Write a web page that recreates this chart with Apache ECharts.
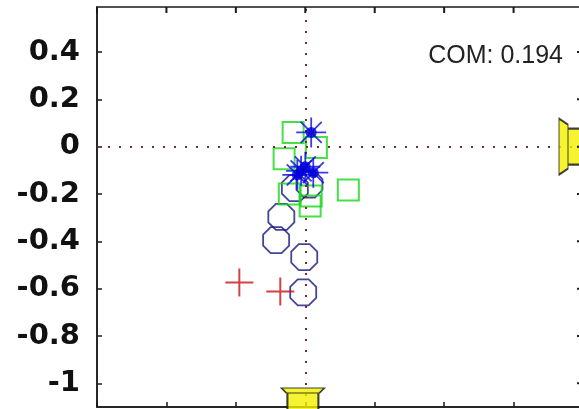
<!DOCTYPE html>
<html>
<head>
<meta charset="utf-8">
<script src="https://cdn.jsdelivr.net/npm/echarts@6/dist/echarts.min.js"></script>
<style>html,body{margin:0;padding:0;background:#fff}#c{width:579px;height:409px}</style>
</head>
<body>
<div id="c"></div>
<script>
// ---- data ----
const xMin = -0.6, xMax = 0.8;
const yMin = -1.1, yMax = 0.59;
const xTicks = [-0.6, -0.4, -0.2, 0, 0.2, 0.4, 0.6, 0.8];
const yTicks = [-1, -0.8, -0.6, -0.4, -0.2, 0, 0.2, 0.4];

const plusX = [-0.190, -0.072];
const plusY = [-0.574, -0.612];

const circleX = [-0.069, -0.084, -0.003, -0.006, 0.012, -0.030];
const circleY = [-0.297, -0.395, -0.467, -0.616, -0.160, -0.175];

const squareX = [-0.035, 0.032, -0.061, 0.124, -0.046, 0.017, 0.014];
const squareY = [0.060, -0.004, -0.051, -0.183, -0.200, -0.208, -0.251];

const starX = [0.017, -0.012, -0.023, 0.000, 0.023];
const starY = [0.060, -0.102, -0.119, -0.085, -0.110];

const comLabel = 'COM: 0.194';
const comBottom = [-0.004, -1.1];
const comRight = [0.8, 0];

const zip = (a, b) => a.map((v, i) => [v, b[i]]);

const chart = echarts.init(document.getElementById('c'), null, {renderer: 'canvas'});

const mkLine = () => ({show: true, onZero: false, lineStyle: {color: '#1a1a1a', width: 1.5}});
const tick = (vals) => ({show: true, inside: true, length: 5, lineStyle: {color: '#1a1a1a', width: 1.5}, customValues: vals.slice()});

const octagon = 'path://M29,0L71,0L100,29L100,71L71,100L29,100L0,71L0,29Z';
const plusPath = 'path://M0,10L20,10M10,0L10,20';
const starPath = 'path://M0,10L20,10M10,0L10,20M3,3L17,17M17,3L3,17';
const bottomMarker = 'path://M0,0L43,0L38,5L5,5ZM6,5L37,5L37,22L6,22Z';
const rightMarker = 'path://M0,0L9,6L9,50L0,56ZM9,10L22,10L22,46L9,46Z';

chart.setOption({
  animation: false,
  backgroundColor: '#fff',
  grid: {left: 97, right: -4, top: 7, bottom: 2, containLabel: false, outerBoundsMode: 'none',
         show: true, backgroundColor: 'transparent', borderColor: '#1a1a1a', borderWidth: 1.5},
  xAxis: {type: 'value', position: 'bottom', min: xMin, max: xMax, axisLine: mkLine(), axisTick: tick(xTicks),
     axisLabel: {show: false, customValues: xTicks.slice()}, splitLine: {show: false}},
  yAxis: {type: 'value', position: 'left', min: yMin, max: yMax, axisLine: mkLine(), axisTick: tick(yTicks),
     axisLabel: {show: true, customValues: yTicks.slice(), margin: 17, color: '#111',
       fontFamily: 'DejaVu Sans', fontWeight: 'bold', fontSize: 29,
       formatter: v => String(v)},
     splitLine: {show: false}},
  graphic: [{
    type: 'text', z: 100,
    style: {text: comLabel, x: 563, y: 56, align: 'right', verticalAlign: 'middle',
      font: '25px "Liberation Sans", Arial, sans-serif', fill: '#222'}
  }],
  series: [
    {
      type: 'scatter', name: 'circles', z: 2,
      data: zip(circleX, circleY),
      symbol: octagon, symbolSize: 26,
      itemStyle: {color: 'transparent', borderColor: '#16167e', borderWidth: 1.8},
      markLine: {
        silent: true, symbol: ['none', 'none'], label: {show: false}, animation: false,
        lineStyle: {type: [2, 9], color: '#7a2a2a', width: 2},
        emphasis: {disabled: true},
        data: [{xAxis: 0}, {yAxis: 0}]
      }
    },
    {
      type: 'scatter', name: 'plus', z: 3,
      data: zip(plusX, plusY),
      symbol: plusPath, symbolSize: 28,
      itemStyle: {color: 'transparent', borderColor: '#c41414', borderWidth: 2}
    },
    {
      type: 'scatter', name: 'squares', z: 4,
      data: zip(squareX, squareY),
      symbol: 'rect', symbolSize: 21,
      itemStyle: {color: 'transparent', borderColor: '#18d818', borderWidth: 2}
    },
    {
      type: 'scatter', name: 'stars', z: 5,
      data: zip(starX, starY),
      symbol: starPath, symbolSize: 30,
      itemStyle: {color: 'transparent', borderColor: '#0a0ae6', borderWidth: 1.8}
    },
    {
      type: 'scatter', name: 'starCentres', z: 6,
      data: zip(starX, starY),
      symbol: 'circle', symbolSize: 11,
      itemStyle: {color: '#0000d8'}
    },
    {
      type: 'scatter', name: 'comBottom', z: 7, clip: false,
      data: [comBottom],
      symbol: bottomMarker, symbolSize: [43, 22], symbolOffset: [-1, -8],
      itemStyle: {color: '#f4f000', borderColor: '#111', borderWidth: 1.5}
    },
    {
      type: 'scatter', name: 'comRight', z: 7, clip: false,
      data: [comRight],
      symbol: rightMarker, symbolSize: [22, 56], symbolOffset: [-13, 0],
      itemStyle: {color: '#f4f000', borderColor: '#111', borderWidth: 1.5}
    },
    {
      // inward tick marks on the top edge of the box
      type: 'custom', name: 'topTicks', silent: true, clip: false, z: 9,
      data: xTicks.map(v => [v, yMax]),
      renderItem: (params, api) => {
        const p = api.coord([api.value(0), api.value(1)]);
        return {type: 'line', shape: {x1: p[0], y1: p[1], x2: p[0], y2: p[1] + 6},
                style: {stroke: '#1a1a1a', lineWidth: 2}};
      }
    },
    {
      // inward tick marks on the right edge of the box
      type: 'custom', name: 'rightTicks', silent: true, clip: false, z: 9,
      data: yTicks.map(v => [xMax, v]),
      renderItem: (params, api) => {
        const p = api.coord([api.value(0), api.value(1)]);
        return {type: 'line', shape: {x1: p[0] - 6, y1: p[1], x2: p[0], y2: p[1]},
                style: {stroke: '#1a1a1a', lineWidth: 2}};
      }
    }
  ]
});
</script>
</body>
</html>
